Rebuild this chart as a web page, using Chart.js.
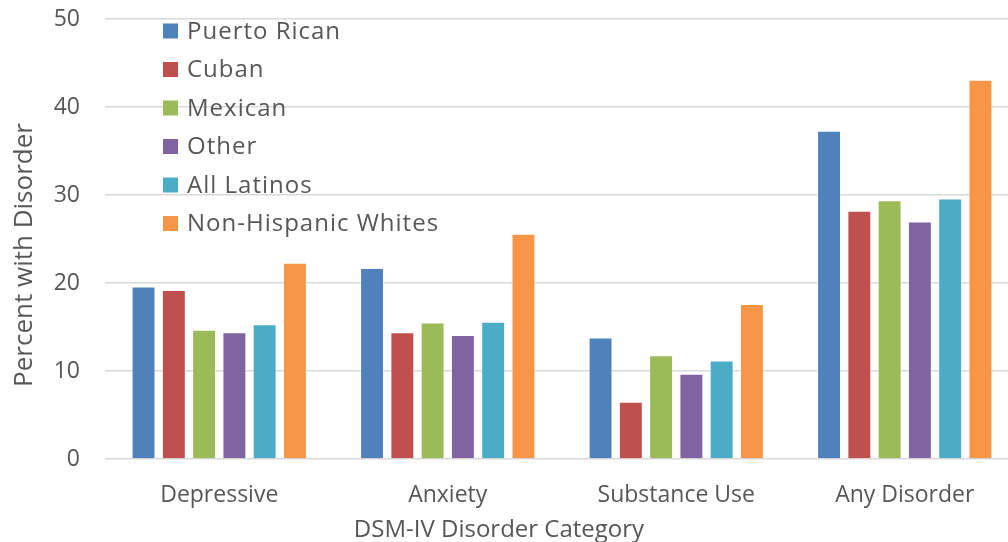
<!DOCTYPE html>
<html>
<head>
<meta charset="utf-8">
<title>DSM-IV Disorder Prevalence</title>
<script src="https://cdn.jsdelivr.net/npm/chart.js@4/dist/chart.umd.min.js"></script>
<style>
  html, body { margin: 0; padding: 0; overflow: hidden; background: #ffffff; }
  #wrap { position: relative; width: 1019px; height: 542px; }
</style>
</head>
<body>
<div id="wrap"><canvas id="chart"></canvas></div>
<script>
// Disorder categories on the x axis
const categories = ['Depressive', 'Anxiety', 'Substance Use', 'Any Disorder'];

// Percent with disorder, one array per group
const puertoRican       = [19.6, 21.7, 13.8, 37.3];
const cuban             = [19.2, 14.4,  6.5, 28.2];
const mexican           = [14.7, 15.5, 11.8, 29.4];
const other             = [14.4, 14.1,  9.7, 27.0];
const allLatinos        = [15.3, 15.6, 11.2, 29.6];
const nonHispanicWhites = [22.3, 25.6, 17.6, 43.1];

const seriesNames = ['Puerto Rican', 'Cuban', 'Mexican', 'Other', 'All Latinos', 'Non-Hispanic Whites'];
const seriesValues = [puertoRican, cuban, mexican, other, allLatinos, nonHispanicWhites];
const seriesColors = ['#4F81BD', '#C0504D', '#9BBB59', '#8064A2', '#4BACC6', '#F79646'];

// Value-axis tick labels
const yTicks = [0, 10, 20, 30, 40, 50];

const axisTitleX = 'DSM-IV Disorder Category';
const axisTitleY = 'Percent with Disorder';

const TEXT = '#575757';
const FONT = '"Open Sans", "Noto Sans", sans-serif';

// Legend drawn inside the plot, stacked in the upper-left corner
const insideLegend = {
  id: 'insideLegend',
  afterDatasetsDraw(chart) {
    const ctx = chart.ctx;
    ctx.save();
    ctx.font = '24px ' + FONT;
    if ('letterSpacing' in ctx) ctx.letterSpacing = '1px';
    ctx.textBaseline = 'middle';
    ctx.textAlign = 'left';
    chart.data.datasets.forEach((ds, i) => {
      const cy = 31 + i * 38.5;
      ctx.fillStyle = ds.backgroundColor;
      ctx.fillRect(163, cy - 7.5, 15, 15);
      ctx.fillStyle = TEXT;
      ctx.fillText(ds.label, 187, cy + 1);
    });
    ctx.restore();
  }
};

// Axis titles
const axisTitles = {
  id: 'axisTitles',
  afterDraw(chart) {
    const ctx = chart.ctx;
    ctx.save();
    ctx.fillStyle = TEXT;
    ctx.textAlign = 'center';
    ctx.textBaseline = 'alphabetic';
    ctx.font = '24px ' + FONT;
    ctx.fillText(axisTitleX, 499, 537);
    ctx.translate(32, 255);
    ctx.rotate(-Math.PI / 2);
    ctx.font = '26px ' + FONT;
    ctx.fillText(axisTitleY, 0, 0);
    ctx.restore();
  }
};

function build() {
  new Chart(document.getElementById('chart'), {
    type: 'bar',
    data: {
      labels: categories,
      datasets: seriesNames.map((name, i) => ({
        label: name,
        data: seriesValues[i],
        backgroundColor: seriesColors[i],
        borderColor: 'rgba(255,255,255,0.45)',
        borderWidth: 1,
        categoryPercentage: 0.795,
        barPercentage: 0.79
      }))
    },
    options: {
      responsive: true,
      maintainAspectRatio: false,
      animation: false,
      layout: { padding: { top: 19, right: 0, bottom: 0, left: 0 } },
      plugins: {
        legend: { display: false },
        tooltip: { enabled: false }
      },
      scales: {
        x: {
          grid: { display: false },
          border: { display: false },
          ticks: {
            color: TEXT,
            font: { family: FONT, size: 23 },
            padding: 15,
            maxRotation: 0
          },
          afterFit(scale) { scale.height = 83; }
        },
        y: {
          min: 0,
          max: 50,
          afterBuildTicks(scale) { scale.ticks = yTicks.map(v => ({ value: v })); },
          grid: { color: '#d9d9d9', lineWidth: 1.5, drawTicks: false },
          border: { display: false },
          ticks: {
            color: TEXT,
            font: { family: FONT, size: 23 },
            padding: 25
          },
          afterFit(scale) {
            scale.width = 105;
            scale.paddingTop = 0;
            scale.paddingBottom = 0;
          }
        }
      }
    },
    plugins: [insideLegend, axisTitles]
  });
}

const fontLoads = [23, 24, 26].map(s => document.fonts.load(s + 'px "Open Sans"'));
Promise.all(fontLoads).then(build, build);
</script>
</body>
</html>
